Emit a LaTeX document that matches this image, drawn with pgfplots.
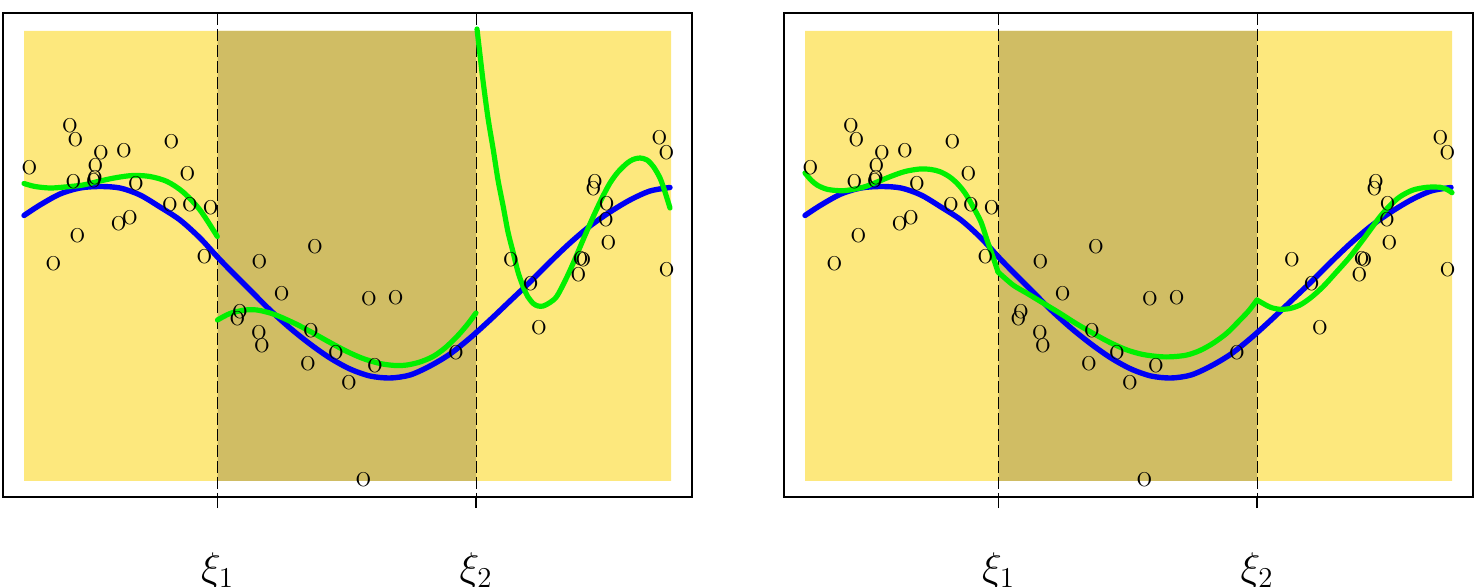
\documentclass[border=0pt]{standalone}
\usepackage{pgfplots}
\pgfplotsset{compat=1.18}
\usepackage{pgfplotstable}
\definecolor{ylw}{RGB}{253,232,125}
\definecolor{drk}{RGB}{208,189,100}
\definecolor{grn}{RGB}{0,240,0}
\definecolor{blu}{RGB}{0,0,245}

% data points (x, y in picture units, y measured downward)
\pgfplotstableread{
x y
70 126
75.3 140
101 152.3
124 151
171.3 141.3
29.3 168
95.3 165.3
73.3 181.3
95 177.5
94 181
136 183.3
187.3 174
170 204.3
190 204.3
210.7 207.3
130 218
118.7 223.3
77.3 235.7
53.3 264
204.5 256.7
259.3 261.3
315 246.7
281.7 294
240 311.7
237.3 318.3
259 332.3
262 346
311 330.7
336 352.3
308 364
349 382.3
369 299
395.7 297.3
375 365.7
456 352.3
363.5 480
511 259.3
530.7 284
539 327.3
595 181.7
593.3 188.3
606.7 204
606 219.3
608.3 242.3
580.7 259
583.3 260
578.3 274.7
659.3 137.3
666.3 152.7
666.7 270
}\pts

\pgfplotstableread{
x y
24 215.5
40 205
60 194
80 188
100 186.5
120 188
140 195
160 207
180 220
200 238
217 256.5
230 270
250 290
270 310
290 328
310 344
330 358
350 369
370 376
390 378
410 375
430 366
450 354
470 338
490 320
510 301
530 282
550 262
570 243
590 226
610 212
630 200
650 191
670 187.5
}\truef

\pgfplotstableread{
x y
24 183.5
35 186.5
50 188
65 187
83 185
100 181
117 177.5
133 175.5
150 176.5
167 181.5
183 192
200 210
217.3 236.5
}\gLa
\pgfplotstableread{
x y
217.5 320
230 313.5
245 310
257 310
270 313
280 316.7
297 324.5
313 333
330 342.5
347 351.5
363 358.5
380 363.5
395 365.5
407 365
420 362
433 356.5
445 348
457 336.5
467 325
476 313
}\gLb
\pgfplotstableread{
x y
477 29
480 55
483.3 83
488 118
493.3 150
498 180
503.3 207
508 232
513.3 253
518 272
523.3 287
528 297
533.3 303.5
538 306
543.3 306
550 302.5
556.7 296.5
565 281
573.3 263
583 240
593.3 216.5
602 198
610 183
618 172
626.7 163.5
633 159.5
640 158
647 160
653.3 166.5
660 178
665 192
670 208
}\gLc

\pgfplotstableread{
x y
24 173
30 180
36 185
45 189
55 190.5
65 190.5
82 187.3
95 182.5
109 176.7
124 171.5
139 169
150 169.5
159 171.7
168 176.5
176 183.3
184 193
192 206.7
200 222
206 240
212 257
217 272
}\gRa
\pgfplotstableread{
x y
217 272
232 285
246 293.3
262 303
279 313.3
295 323.5
312 333.3
329 342.5
346 350
362 354.5
379 356.7
392 356.7
406 355
419 350.5
432 343.3
446 333
459 320
468 310.5
476 300
}\gRb
\pgfplotstableread{
x y
476 300
483 304
490 307.5
499 309.3
509 308.5
519 305
530 297.5
542 286.7
555 272.5
569 256.7
584 237
599 216.7
609 205.5
619 196.7
632 190
646 187.3
659 187.3
666 189.5
671 192.7
}\gRc

\pgfplotsset{panel/.style={
  scale only axis, width=344.5pt, height=242pt,
  xmin=3, xmax=692, ymin=13, ymax=497, y dir=reverse,
  axis line style={line width=0.6pt},
  xtick={217.5,476}, xticklabels={$\xi_1$,$\xi_2$},
  ytick=\empty, xtick pos=left, tick align=outside, major tick length=5.5pt,
  tick style={black, line width=0.6pt},
  xticklabel style={font=\fontsize{20}{24}\selectfont, anchor=north, inner sep=0pt, yshift=-22pt},
  anchor=center,
},
}
\newcommand{\panelbody}{%
  \addplot[fill=ylw, draw=none] coordinates {(24,31) (671,31) (671,481) (24,481) (24,31)};
  \addplot[fill=drk, draw=none] coordinates {(217.5,31) (476,31) (476,481) (217.5,481) (217.5,31)};
  \addplot[black, line width=0.5pt, dash pattern=on 6pt off 2pt] coordinates {(217.5,13) (217.5,497)};
  \addplot[black, line width=0.5pt, dash pattern=on 6pt off 2pt] coordinates {(476,13) (476,497)};
  \addplot[only marks, mark=text, text mark={O}, text mark as node=true,
     text mark style={font=\fontsize{10}{11}\selectfont, inner sep=0pt, anchor=center}] table {\pts};
  \addplot[blu, line width=2.7pt, smooth, line cap=round, line join=round] table {\truef};
}

\begin{document}
\begin{tikzpicture}
\begin{axis}[panel, at={(173.75pt,166pt)}]
  \panelbody
  \addplot[grn, line width=2.6pt, smooth, line cap=round, line join=round] table {\gLa};
  \addplot[grn, line width=2.6pt, smooth, line cap=round, line join=round] table {\gLb};
  \addplot[grn, line width=2.6pt, smooth, line cap=round, line join=round] table {\gLc};
\end{axis}
\begin{axis}[panel, at={(564.25pt,166pt)}]
  \panelbody
  \addplot[grn, line width=2.6pt, smooth, line cap=round, line join=round] table {\gRa};
  \addplot[grn, line width=2.6pt, smooth, line cap=round, line join=round] table {\gRb};
  \addplot[grn, line width=2.6pt, smooth, line cap=round, line join=round] table {\gRc};
\end{axis}
\pgfresetboundingbox
\path (0,0) rectangle (741pt,293.5pt);
\end{tikzpicture}
\end{document}
